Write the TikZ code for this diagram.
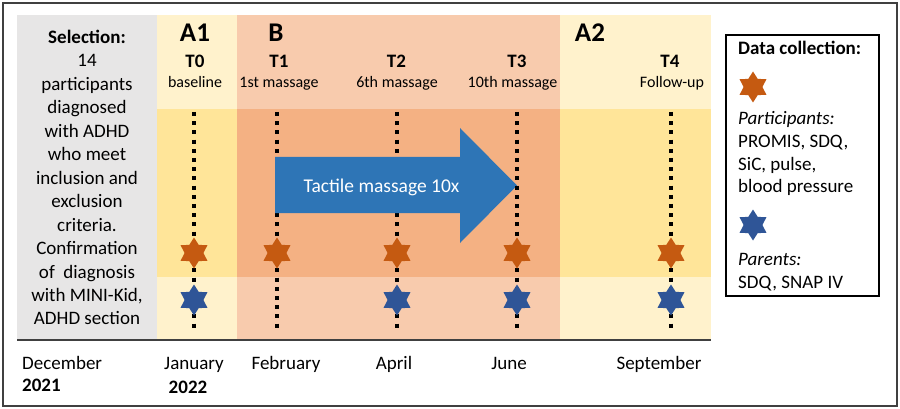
\documentclass[tikz,border=0pt]{standalone}
\usepackage{fontspec}
\setmainfont{Carlito}
\usetikzlibrary{shapes.geometric}
\definecolor{greycol}{HTML}{E7E6E6}
\definecolor{alight}{HTML}{FFF2CC}
\definecolor{amid}{HTML}{FFE599}
\definecolor{blight}{HTML}{F8CBAD}
\definecolor{bmid}{HTML}{F4B183}
\definecolor{ostar}{HTML}{C55A11}
\definecolor{bstar}{HTML}{2F5597}
\definecolor{arrowblue}{HTML}{2E75B6}
\definecolor{frame}{HTML}{404040}
\tikzset{
  txt/.style={inner sep=0pt, anchor=base, font=\fontsize{19}{23}\selectfont},
  bigl/.style={inner sep=0pt, anchor=base, font=\fontsize{27}{30}\selectfont\bfseries},
  tlab/.style={inner sep=0pt, anchor=base, font=\fontsize{19}{21}\selectfont\bfseries},
  sublab/.style={inner sep=0pt, anchor=base, font=\fontsize{16}{18}\selectfont},
  dotline/.style={line width=4pt, dash pattern=on 4pt off 5.2pt, black},
  hexstar/.style={star, star points=6, star point ratio=1.65, minimum size=31pt, inner sep=0pt, draw=none},
  ostarst/.style={hexstar, fill=ostar},
  bstarst/.style={hexstar, fill=bstar},
}
\begin{document}
\begin{tikzpicture}[x=1pt,y=-1pt]
\useasboundingbox (0,0) rectangle (900,409);
\fill[white] (0,0) rectangle (900,409);
% outer frame
\draw[frame, line width=1.5pt] (3,3) rectangle (897,406);
% columns
\fill[greycol] (17,15) rectangle (157,340);
\fill[alight] (157,15) rectangle (237,109);
\fill[amid] (157,109) rectangle (237,277);
\fill[alight] (157,277) rectangle (237,340);
\fill[blight] (237,15) rectangle (560,109);
\fill[bmid] (237,109) rectangle (560,277);
\fill[blight] (237,277) rectangle (560,340);
\fill[alight] (560,15) rectangle (711,109);
\fill[amid] (560,109) rectangle (711,277);
\fill[alight] (560,277) rectangle (711,340);
% baseline rule
\coordinate (ruleL) at (17,340);
\coordinate (ruleR) at (711,340);
\draw[frame, line width=2pt] (ruleL) -- (ruleR);
% selection text
\node[txt, font=\fontsize{19}{23}\selectfont\bfseries] (sel0) at (87,43.5) {Selection:};
\foreach [count=\i] \t in {14,participants,diagnosed,{with ADHD},{who meet},{inclusion and},exclusion,criteria.,Confirmation,{of~ diagnosis},{with MINI-Kid,},{ADHD section}}
  \node[txt] (sel\i) at (87,{43.5+23.45*\i}) {\t};
% phase labels
\node[bigl] (A1) at (195,42) {A1};
\node[bigl] (B) at (276,42) {B};
\node[bigl] (A2) at (590,42) {A2};
% time point labels
\node[tlab] (T0) at (195,68) {T0};
\node[sublab] (T0s) at (195,87.5) {baseline};
\node[tlab] (T1) at (279,68) {T1};
\node[sublab] (T1s) at (279,87.5) {1st massage};
\node[tlab] (T2) at (396.5,68) {T2};
\node[sublab] (T2s) at (397,87.5) {6th massage};
\node[tlab] (T3) at (517,68) {T3};
\node[sublab] (T3s) at (512.5,87.5) {10th massage};
\node[tlab] (T4) at (670,68) {T4};
\node[sublab] (T4s) at (672,87.5) {Follow-up};
% dotted lines
\foreach \n/\x in {0/194,1/277,2/397,3/517,4/671}{
  \coordinate (top\n) at (\x,112);
  \coordinate (bot\n) at (\x,332);
}
\draw[dotline] (top0) -- (bot0);
\draw[dotline] (top1) -- (bot1);
\draw[dotline] (top2) -- (bot2);
\draw[dotline] (top4) -- (bot4);
% arrow
\fill[arrowblue] (275,157) -- (460,157) -- (460,128) -- (517,185.5) -- (460,243) -- (460,213) -- (275,213) -- cycle;
\node[txt, text=white, font=\fontsize{19.5}{22}\selectfont] (arrowtxt) at (381.5,193) {Tactile massage 10x};
\draw[dotline] (top3) -- (bot3);
% stars
\foreach \n/\x in {0/194,1/277,2/397,3/517,4/671}
  \node[ostarst] (os\n) at (\x,253) {};
\foreach \n/\x in {0/194,2/397,3/517,4/671}
  \node[bstarst] (bs\n) at (\x,300) {};
% months
\node[txt, anchor=base west] (dec) at (22,369) {December};
\node[txt, anchor=base west, font=\fontsize{19}{23}\selectfont\bfseries] (y21) at (22,391) {2021};
\node[txt] (jan) at (194,369) {January};
\node[txt, font=\fontsize{19}{23}\selectfont\bfseries] (y22) at (188,393) {2022};
\node[txt] (feb) at (286,369) {February};
\node[txt] (apr) at (394,369) {April};
\node[txt] (jun) at (509,369) {June};
\node[txt] (sep) at (659,369) {September};
% legend box
\draw[black, line width=1.5pt] (726,35) rectangle (879,296);
\node[txt, anchor=base west, font=\fontsize{19}{23}\selectfont\bfseries] (dc) at (738,55) {Data collection:};
\node[ostarst] (los) at (753,87) {};
\node[txt, anchor=base west, font=\fontsize{19}{23}\selectfont\itshape] (lp) at (738,125) {Participants:};
\node[txt, anchor=base west] (lp1) at (738,148) {PROMIS, SDQ,};
\node[txt, anchor=base west] (lp2) at (738,170.5) {SiC, pulse,};
\node[txt, anchor=base west] (lp3) at (738,193) {blood pressure};
\node[bstarst] (lbs) at (753,225) {};
\node[txt, anchor=base west, font=\fontsize{19}{23}\selectfont\itshape] (lpa) at (738,265) {Parents:};
\node[txt, anchor=base west] (lpa1) at (738,288) {SDQ, SNAP IV};
\end{tikzpicture}
\end{document}
